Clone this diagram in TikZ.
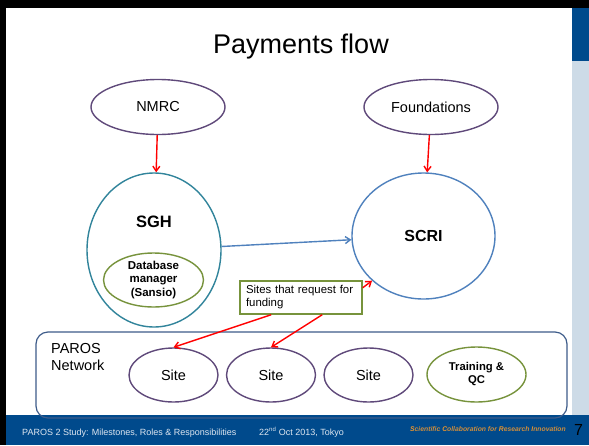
\documentclass[tikz,border=0pt]{standalone}
\usepackage{fontspec}
\setmainfont{Liberation Sans}
\usetikzlibrary{shapes.geometric,arrows.meta}
\definecolor{slideblue}{RGB}{0,74,140}
\definecolor{panelgrey}{RGB}{205,219,231}
\definecolor{ovalpurple}{RGB}{95,73,122}
\definecolor{ovalteal}{RGB}{49,132,155}
\definecolor{ovalblue}{RGB}{79,129,189}
\definecolor{ovalgreen}{RGB}{119,147,60}
\definecolor{netblue}{RGB}{62,92,138}
\definecolor{footorange}{RGB}{205,140,60}
\definecolor{footbright}{RGB}{240,150,40}
\definecolor{foottext}{RGB}{222,230,240}
\begin{document}
\begin{tikzpicture}[x=1pt,y=-1pt,
    oval/.style={ellipse,draw=#1,line width=1.4pt,inner sep=0pt,align=center},
    pay/.style={draw=red,line width=1.4pt,-{Straight Barb[length=5pt,width=7pt]}},
    txt/.style={inner sep=0pt}]
  \useasboundingbox (0,0) rectangle (589,445);
  % slide frame
  \fill[black] (0,0) rectangle (589,445);
  \fill[white] (6,8) rectangle (572,415);
  \fill[slideblue] (572,8) rectangle (589,61);
  \fill[panelgrey] (572,61) rectangle (589,415);
  \fill[slideblue] (6,415) rectangle (589,445);
  \node[txt,anchor=base] (title) at (301,53) {\fontsize{27}{32}\selectfont Payments flow};
  % funders
  \node[oval=ovalpurple,minimum width=134pt,minimum height=55pt] (nmrc) at (158,107) {\fontsize{14.5}{17}\selectfont NMRC};
  \node[oval=ovalpurple,minimum width=134pt,minimum height=55pt] (found) at (431,107) {\fontsize{14.5}{17}\selectfont Foundations};
  % hospital and institute
  \node[oval=ovalteal,minimum width=134pt,minimum height=154pt] (sgh) at (154,250) {};
  \node[txt] (sghlabel) at (154,222) {\fontsize{16.5}{19}\selectfont\bfseries SGH};
  \node[oval=ovalgreen,minimum width=100pt,minimum height=54pt,font=\fontsize{11.5}{13.5}\selectfont\bfseries] (dbm) at (153.5,280) {Database\\manager\\(Sansio)};
  \node[oval=ovalblue,minimum width=143pt,minimum height=126pt] (scri) at (423.5,236) {\fontsize{16}{19}\selectfont\bfseries SCRI};
  \node[draw=ovalgreen,line width=1.4pt,inner sep=0pt,minimum width=122pt,minimum height=33pt,text width=110pt,align=left,font=\fontsize{11.4}{13}\selectfont] (req) at (301,297.5) {Sites that request for\\funding};
  % network
  \node[draw=netblue,line width=1.2pt,rounded corners=12pt,minimum width=531pt,minimum height=86pt] (net) at (301.5,375) {};
  \node[txt,anchor=north west,align=left,font=\fontsize{14.5}{17}\selectfont] (netlabel) at (51,343) {PAROS\\Network};
  \node[oval=ovalpurple,minimum width=89pt,minimum height=54pt] (site1) at (173.5,375) {\fontsize{14.5}{17}\selectfont Site};
  \node[oval=ovalpurple,minimum width=89pt,minimum height=54pt] (site2) at (271,375) {\fontsize{14.5}{17}\selectfont Site};
  \node[oval=ovalpurple,minimum width=89pt,minimum height=54pt] (site3) at (368.5,375) {\fontsize{14.5}{17}\selectfont Site};
  \node[oval=ovalgreen,minimum width=99pt,minimum height=55pt,font=\fontsize{11.3}{13}\selectfont\bfseries] (train) at (476.5,374.5) {Training \&\\QC};
  % money
  \draw[pay] (nmrc) -- (sgh);
  \draw[pay] (found) -- (scri);
  \draw[draw=ovalblue,line width=1.4pt,-{Straight Barb[length=5pt,width=7pt]}] (sgh) -- (scri);
  \draw[pay] (req.9.8) -- (scri.221.6);
  \draw[pay] (req.210.5) -- (site1.north);
  \draw[pay] (req.321.8) -- (site2.north);
  % footer
  \node[txt,anchor=base west,text=foottext] (foot) at (22,435) {\fontsize{9}{11}\selectfont PAROS 2 Study: Milestones, Roles \& Responsibilities};
  \node[txt,anchor=base west,text=foottext] (date) at (259,435) {\fontsize{9}{11}\selectfont 22\textsuperscript{nd} Oct 2013, Tokyo};
  \node[txt,anchor=base east,text=footorange] (motto) at (566,431) {\fontsize{6.8}{8}\selectfont\bfseries\itshape \textcolor{footbright}{S}cientific \textcolor{footbright}{C}ollaboration for \textcolor{footbright}{R}esearch \textcolor{footbright}{I}nnovation};
  \node[txt,anchor=base west] (page) at (574,435) {\fontsize{16}{18}\selectfont 7};
\end{tikzpicture}
\end{document}
